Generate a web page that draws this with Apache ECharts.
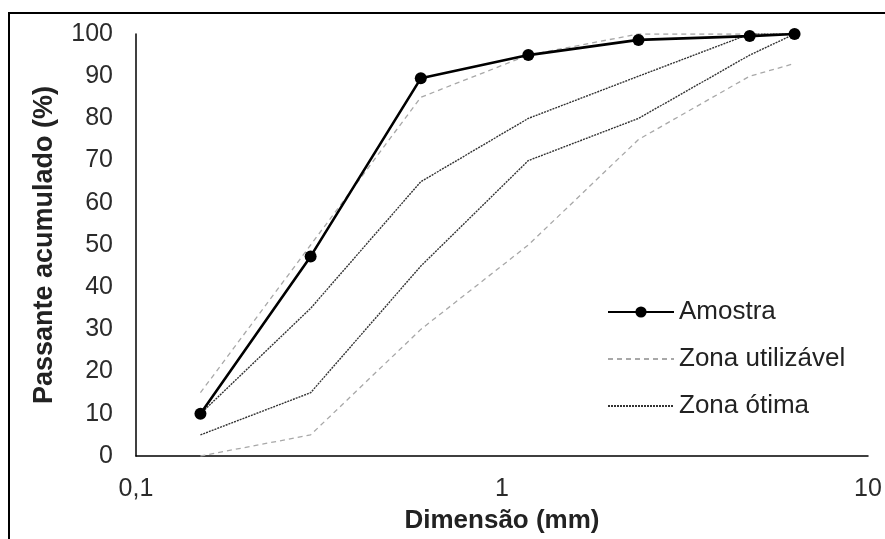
<!DOCTYPE html>
<html>
<head>
<meta charset="utf-8">
<script src="https://cdn.jsdelivr.net/npm/echarts@6/dist/echarts.min.js"></script>
<style>
  html, body { margin: 0; padding: 0; background: #fff; }
  #chart { width: 885px; height: 539px; }
</style>
</head>
<body>
<div id="chart"></div>
<script>
// sieve openings (mm)
const sieves = [0.15, 0.3, 0.6, 1.18, 2.36, 4.75, 6.3];
const amostra = [10, 47.3, 89.5, 95, 98.6, 99.5, 100];
const utilInferior = [0, 5, 30, 50, 75, 90, 93];
const utilSuperior = [15, 50, 85, 95, 100, 100, 100];
const otimaInferior = [5, 15, 45, 70, 80, 95, 100];
const otimaSuperior = [10, 35, 65, 80, 90, 100, 100];

const pairs = (ys) => sieves.map((x, i) => [x, ys[i]]);
const font = "'Liberation Sans', Arial, sans-serif";

const utilStyle = { color: "#a8a8a8", width: 1.3, type: [5, 4] };
const otimaStyle = { color: "#333", width: 1.4, type: [2, 1] };

const chart = echarts.init(document.getElementById("chart"), null, { renderer: "canvas" });
chart.setOption({
  animation: false,
  backgroundColor: "#fff",
  graphic: [{
    type: "rect",
    shape: { x: 9, y: 13, width: 900, height: 600 },
    style: { fill: null, stroke: "#000", lineWidth: 2 },
    silent: true,
  }],
  grid: { left: 136, right: 17, top: 34, bottom: 82 },
  legend: {
    orient: "vertical",
    left: 602,
    top: 294,
    itemWidth: 66,
    itemHeight: 14,
    itemGap: 21,
    data: [
      "Amostra",
      { name: "Zona utilizável", itemStyle: { opacity: 0 } },
      { name: "Zona ótima", itemStyle: { opacity: 0 } },
    ],
    textStyle: { fontFamily: font, fontSize: 26, color: "#222", lineHeight: 26 },
  },
  xAxis: {
    type: "log",
    logBase: 10,
    min: 0.1,
    max: 10,
    name: "Dimensão (mm)",
    nameLocation: "middle",
    nameGap: 52,
    nameTextStyle: { fontFamily: font, fontSize: 26, fontWeight: "bold", color: "#222" },
    axisLine: { lineStyle: { color: "#000", width: 1.5 } },
    axisTick: { show: false },
    splitLine: { show: false },
    axisLabel: {
      fontFamily: font, fontSize: 25, color: "#2b2b2b", margin: 21,
      formatter: (v) => String(v).replace(".", ","),
    },
  },
  yAxis: {
    type: "value",
    min: 0,
    max: 100,
    interval: 10,
    name: "Passante acumulado (%)",
    nameLocation: "middle",
    nameGap: 78,
    nameTextStyle: { fontFamily: font, fontSize: 27, fontWeight: "bold", color: "#222" },
    axisLine: { show: true, lineStyle: { color: "#000", width: 1.5 } },
    axisTick: { show: false },
    splitLine: { show: false },
    axisLabel: { fontFamily: font, fontSize: 25, color: "#2b2b2b", margin: 23 },
  },
  series: [
    { name: "Zona utilizável", type: "line", data: pairs(utilInferior), symbol: "none", lineStyle: utilStyle, itemStyle: { color: utilStyle.color } },
    { name: "Zona utilizável", type: "line", data: pairs(utilSuperior), symbol: "none", lineStyle: utilStyle, itemStyle: { color: utilStyle.color } },
    { name: "Zona ótima", type: "line", data: pairs(otimaInferior), symbol: "none", lineStyle: otimaStyle, itemStyle: { color: otimaStyle.color } },
    { name: "Zona ótima", type: "line", data: pairs(otimaSuperior), symbol: "none", lineStyle: otimaStyle, itemStyle: { color: otimaStyle.color } },
    {
      name: "Amostra", type: "line", data: pairs(amostra), z: 5,
      symbol: "circle", symbolSize: 12,
      lineStyle: { color: "#000", width: 2.6 },
      itemStyle: { color: "#000" },
    },
  ],
});
</script>
</body>
</html>
